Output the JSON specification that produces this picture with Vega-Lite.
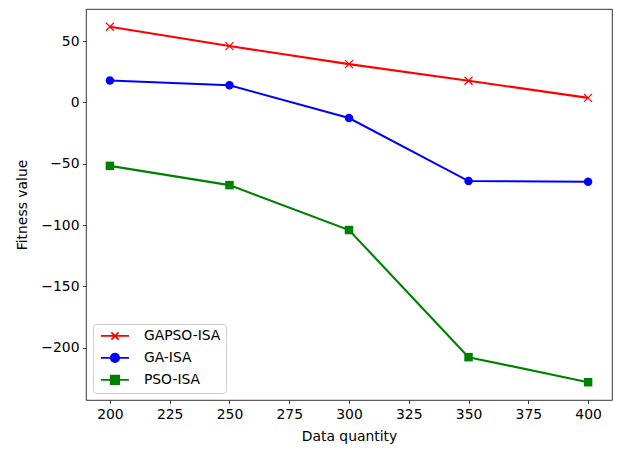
{
  "$schema": "https://vega.github.io/schema/vega-lite/v6.json",
  "width": 526,
  "height": 391,
  "autosize": {"type": "none"},
  "padding": {"left": 86, "top": 9, "right": 7, "bottom": 50},
  "background": "white",
  "config": {
    "view": {"stroke": "black", "strokeWidth": 0.8},
    "font": "DejaVu Sans",
    "axis": {
      "grid": false,
      "domain": false,
      "tickColor": "black",
      "tickWidth": 0.8,
      "tickSize": 3.5,
      "labelFont": "DejaVu Sans",
      "labelFontSize": 13.9,
      "labelColor": "black",
      "labelPadding": 3.5,
      "titleFont": "DejaVu Sans",
      "titleFontSize": 13.9,
      "titleFontWeight": "normal",
      "titleColor": "black"
    }
  },
  "data": {
    "values": [
      {"n": 200, "fitness": 61.6, "series": "GAPSO-ISA"},
      {"n": 250, "fitness": 45.9, "series": "GAPSO-ISA"},
      {"n": 300, "fitness": 31.2, "series": "GAPSO-ISA"},
      {"n": 350, "fitness": 17.6, "series": "GAPSO-ISA"},
      {"n": 400, "fitness": 3.7, "series": "GAPSO-ISA"},
      {"n": 200, "fitness": 17.9, "series": "GA-ISA"},
      {"n": 250, "fitness": 14.0, "series": "GA-ISA"},
      {"n": 300, "fitness": -12.8, "series": "GA-ISA"},
      {"n": 350, "fitness": -64.1, "series": "GA-ISA"},
      {"n": 400, "fitness": -64.7, "series": "GA-ISA"},
      {"n": 200, "fitness": -51.7, "series": "PSO-ISA"},
      {"n": 250, "fitness": -67.4, "series": "PSO-ISA"},
      {"n": 300, "fitness": -104.0, "series": "PSO-ISA"},
      {"n": 350, "fitness": -207.6, "series": "PSO-ISA"},
      {"n": 400, "fitness": -228.0, "series": "PSO-ISA"}
    ]
  },
  "encoding": {
    "x": {
      "field": "n",
      "type": "quantitative",
      "scale": {"domain": [190, 410], "nice": false, "zero": false},
      "axis": {"values": [200, 225, 250, 275, 300, 325, 350, 375, 400], "title": "Data quantity", "titlePadding": 9}
    },
    "y": {
      "field": "fitness",
      "type": "quantitative",
      "scale": {"domain": [-242.5, 76.1], "nice": false, "zero": false},
      "axis": {"values": [-200, -150, -100, -50, 0, 50], "title": "Fitness value", "titlePadding": 11}
    },
    "color": {
      "field": "series",
      "type": "nominal",
      "scale": {"domain": ["GAPSO-ISA", "GA-ISA", "PSO-ISA"], "range": ["#ff0000", "#0000ff", "#008000"]}
    }
  },
  "layer": [
    {
      "mark": {"type": "line", "strokeWidth": 2.1},
      "encoding": {
        "color": {
          "field": "series",
          "type": "nominal",
          "scale": {"domain": ["GAPSO-ISA", "GA-ISA", "PSO-ISA"], "range": ["#ff0000", "#0000ff", "#008000"]},
          "legend": {
            "title": null,
            "orient": "none",
            "legendX": 7,
            "legendY": 315,
            "fillColor": "rgba(255,255,255,0.8)",
            "strokeColor": "#cccccc",
            "cornerRadius": 3,
            "padding": 5,
            "rowPadding": 6,
            "labelFont": "DejaVu Sans",
            "labelFontSize": 13.9,
            "labelColor": "black",
            "symbolSize": 100,
            "symbolOffset": 10,
            "labelOffset": 22,
            "encode": {
              "symbols": {
                "update": {
                  "shape": {"signal": "datum.value === 'GAPSO-ISA' ? 'M-2.8,0H2.8M-0.72,-0.72L0.72,0.72M-0.72,0.72L0.72,-0.72' : datum.value === 'GA-ISA' ? 'M-2.8,0H2.8M0.84,0A0.84,0.84 0 1,1 -0.84,0A0.84,0.84 0 1,1 0.84,0Z' : 'M-2.8,0H2.8M-0.84,-0.84H0.84V0.84H-0.84Z'"},
                  "fill": {"signal": "scale('color', datum.value)"},
                  "stroke": {"signal": "scale('color', datum.value)"},
                  "strokeWidth": {"value": 1.8},
                  "opacity": {"value": 1}
                }
              }
            }
          }
        }
      }
    },
    {
      "transform": [{"filter": "datum.series === 'GAPSO-ISA'"}],
      "mark": {"type": "point", "shape": "M-1,-1L1,1M-1,1L1,-1", "filled": false, "size": 64, "strokeWidth": 1.2, "opacity": 1}
    },
    {
      "transform": [{"filter": "datum.series === 'GA-ISA'"}],
      "mark": {"type": "point", "shape": "circle", "filled": true, "size": 72, "opacity": 1}
    },
    {
      "transform": [{"filter": "datum.series === 'PSO-ISA'"}],
      "mark": {"type": "point", "shape": "square", "filled": true, "size": 72, "opacity": 1}
    }
  ]
}
